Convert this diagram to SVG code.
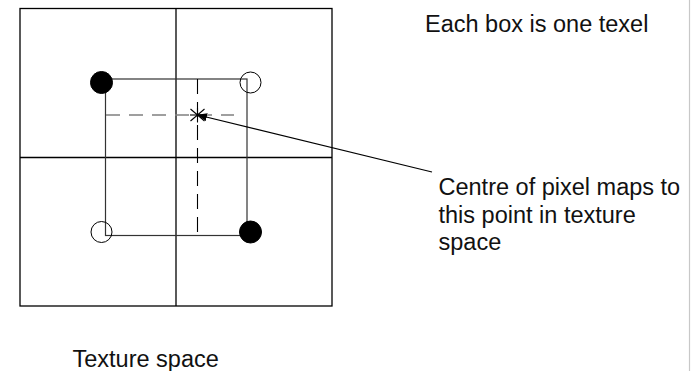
<svg xmlns="http://www.w3.org/2000/svg" width="700" height="371" viewBox="0 0 700 371">
<style>
.grid{stroke:#000;stroke-width:1.3;fill:none}
.samp{stroke:#333;stroke-width:1.2;fill:none}
.hd{stroke:#808080;stroke-width:1.4;stroke-dasharray:14 9;fill:none}
.vd{stroke:#000;stroke-width:1.1;stroke-dasharray:15 8;fill:none}
.on{fill:#000;stroke:#000;stroke-width:1}
.off{fill:none;stroke:#000;stroke-width:1}
.t{font-family:"Liberation Sans",Arial,sans-serif;font-size:23.5px;fill:#111}
</style>
<defs>
<marker id="ah" markerWidth="10" markerHeight="8" refX="9" refY="4" orient="auto" markerUnits="userSpaceOnUse">
<path d="M0,0 L10,4 L0,8 z" fill="#000"/>
</marker>
</defs>
<rect width="700" height="371" fill="#fff"/>
<line x1="689.5" y1="0" x2="689.5" y2="371" stroke="#c8c8c8" stroke-width="1.2"/>
<g id="texels">
<rect class="grid" x="20" y="8.5" width="312" height="297.5"/>
<line class="grid" x1="176" y1="8.5" x2="176" y2="306"/>
<line class="grid" x1="20" y1="157.5" x2="332" y2="157.5"/>
</g>
<g id="sample-square">
<rect class="samp" x="105.5" y="79" width="141.5" height="156.5"/>
<line class="hd" x1="106" y1="115" x2="234" y2="115"/>
<line class="vd" x1="197.5" y1="79" x2="197.5" y2="235"/>
</g>
<g id="texel-tl"><circle class="on" cx="101.5" cy="82.5" r="11"/></g>
<g id="texel-tr"><circle class="off" cx="250.5" cy="82.5" r="10.5"/></g>
<g id="texel-bl"><circle class="off" cx="101.5" cy="232" r="10.5"/></g>
<g id="texel-br"><circle class="on" cx="250.5" cy="232" r="11"/></g>
<g id="sample-point" stroke="#000" stroke-width="1.1">
<line x1="190.5" y1="109" x2="204.5" y2="121"/>
<line x1="190.5" y1="121" x2="204.5" y2="109"/>
<line x1="197.5" y1="107.5" x2="197.5" y2="122.5"/>
<line x1="190" y1="115" x2="205" y2="115"/>
</g>
<g id="connectors">
<line x1="432" y1="172" x2="198" y2="115" stroke="#000" stroke-width="1.2" marker-end="url(#ah)"/>
</g>
<g id="label-texel"><text class="t" x="425" y="31.5">Each box is one texel</text></g>
<g id="label-centre">
<text class="t" x="438.5" y="195">Centre of pixel maps to</text>
<text class="t" x="438.5" y="222.5">this point in texture</text>
<text class="t" x="438.5" y="250">space</text>
</g>
<g id="label-space"><text class="t" x="72.5" y="366.5">Texture space</text></g>
</svg>
